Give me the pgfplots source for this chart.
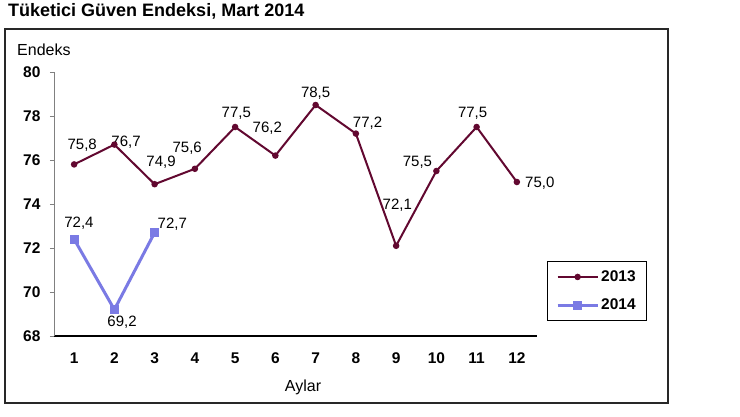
\documentclass[border=0pt]{standalone}
\usepackage{pgfplots}
\pgfplotsset{compat=1.18}
\usepackage{fontspec}
\setmainfont{Liberation Sans}

\definecolor{c2013}{RGB}{98,8,48}
\definecolor{c2014}{RGB}{122,122,228}
\definecolor{frameg}{RGB}{40,40,40}

\newcommand{\lblfont}{\fontsize{15}{17}\selectfont}
\newcommand{\tickfont}{\fontsize{15.5}{18}\selectfont\bfseries}

\begin{document}
\begin{tikzpicture}[x=1pt,y=1pt]
\useasboundingbox (0,0) rectangle (740,417);
\fill[white] (0,0) rectangle (740,417);

% title and outer frame
\node[anchor=base west,inner sep=0pt,font=\fontsize{18}{21}\selectfont\bfseries] at (8,400) {Tüketici Güven Endeksi, Mart 2014};
\draw[frameg,line width=1.6pt] (5,14) rectangle (668,388);

\begin{axis}[
  at={(54pt,81pt)}, anchor=south west,
  scale only axis, width=483pt, height=264pt,
  xmin=0.5, xmax=12.5, ymin=68, ymax=80,
  xtick={1,...,12}, ytick={68,70,...,80},
  axis x line=bottom, axis y line=left,
  x axis line style={-, black, line width=1.6pt},
  y axis line style={-, gray, line width=0.8pt},
  xtick style={draw=none},
  ytick style={gray, line width=0.8pt},
  tick align=outside, major tick length=4pt,
  /pgf/number format/assume math mode=true,
  ticklabel style={font=\tickfont},
  xticklabel style={yshift=-9pt},
  yticklabel style={xshift=-6pt},
  clip=false,
  legend style={draw=black, line width=1.2pt, at={(1.124,0.170)}, anchor=center,
    font=\tickfont, inner xsep=9pt, inner ysep=7pt, row sep=12pt,
    /tikz/every even column/.append style={column sep=2pt}},
  legend cell align=left,
  legend image code/.code={\draw[mark repeat=2,mark phase=2,#1] plot coordinates {(0pt,0pt) (20pt,0pt) (40pt,0pt)};},
]
\addplot[c2013, line width=2pt, mark=*, mark size=2.2pt] coordinates {
  (1,75.8) (2,76.7) (3,74.9) (4,75.6) (5,77.5) (6,76.2)
  (7,78.5) (8,77.2) (9,72.1) (10,75.5) (11,77.5) (12,75.0)
};
\addlegendentry{2013}
\addplot[c2014, line width=3pt, mark=square*, mark size=3pt] coordinates {
  (1,72.4) (2,69.2) (3,72.7)
};
\addlegendentry{2014}

% data labels 2013
\node[font=\lblfont] at (axis cs:1.2,76.68) {75,8};
\node[font=\lblfont] at (axis cs:2.29,76.82) {76,7};
\node[font=\lblfont] at (axis cs:3.16,75.9) {74,9};
\node[font=\lblfont] at (axis cs:3.81,76.55) {75,6};
\node[font=\lblfont] at (axis cs:5.03,78.14) {77,5};
\node[font=\lblfont] at (axis cs:5.8,77.45) {76,2};
\node[font=\lblfont] at (axis cs:7.0,79.05) {78,5};
\node[font=\lblfont] at (axis cs:8.29,77.68) {77,2};
\node[font=\lblfont] at (axis cs:9.03,73.95) {72,1};
\node[font=\lblfont] at (axis cs:9.53,75.9) {75,5};
\node[font=\lblfont] at (axis cs:10.9,78.14) {77,5};
\node[font=\lblfont] at (axis cs:12.57,74.95) {75,0};
% data labels 2014
\node[font=\lblfont] at (axis cs:1.12,73.14) {72,4};
\node[font=\lblfont] at (axis cs:2.19,68.64) {69,2};
\node[font=\lblfont] at (axis cs:3.44,73.1) {72,7};
\end{axis}

% axis titles
\node[anchor=west,inner sep=0pt,font=\fontsize{16}{19}\selectfont] at (17,367) {Endeks};
\node[inner sep=0pt,font=\fontsize{16}{19}\selectfont] at (303,30) {Aylar};
\end{tikzpicture}
\end{document}
